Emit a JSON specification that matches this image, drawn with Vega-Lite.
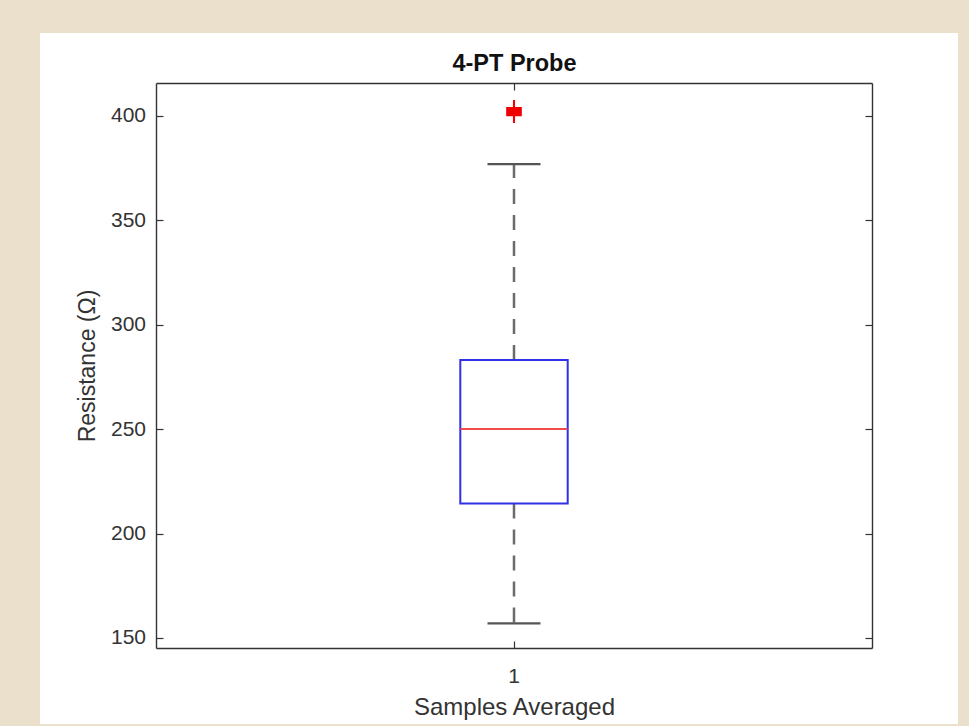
{
  "$schema": "https://vega.github.io/schema/vega-lite/v6.json",
  "width": 918,
  "height": 691,
  "autosize": {"type": "none"},
  "padding": {"left": 40, "top": 33, "right": 11, "bottom": 2},
  "background": "#EAE0CC",
  "config": {
    "view": {"fill": "white", "stroke": null},
    "font": "Liberation Sans",
    "axis": {"grid": false, "minExtent": 0, "maxExtent": 400}
  },
  "datasets": {
    "box": [
      {"group": "1", "lower": 157.0, "q1": 214.4, "median": 250.1, "q3": 283.1, "upper": 376.9}
    ],
    "outliers": [
      {"group": "1", "value": 402.1}
    ]
  },
  "layer": [
    {
      "data": {"name": "box"},
      "encoding": {
        "x": {
          "field": "group",
          "type": "nominal",
          "scale": {"range": [116, 832], "paddingInner": 0, "paddingOuter": 0},
          "axis": {
            "orient": "bottom",
            "offset": -76,
            "tickSize": -7,
            "tickColor": "#333333",
            "tickWidth": 1.2,
            "domainColor": "#333333",
            "domainWidth": 1.4,
            "labelAngle": 0,
            "labelFontSize": 21,
            "labelColor": "#333333",
            "labelBaseline": "alphabetic",
            "labelPadding": 41,
            "title": "Samples Averaged",
            "titleFontSize": 24,
            "titleFontWeight": "normal",
            "titleColor": "#333333",
            "titleBaseline": "alphabetic",
            "titlePadding": 28.5
          }
        }
      },
      "layer": [
        {
          "mark": {"type": "rule", "color": "#6b6b6b", "strokeWidth": 2.5, "strokeDash": [15, 11]},
          "encoding": {
            "y": {
              "field": "q3",
              "type": "quantitative",
              "scale": {"domain": [145.2, 415.8], "range": [615, 50], "nice": false, "zero": false},
              "axis": {
                "orient": "left",
                "offset": -116,
                "values": [150, 200, 250, 300, 350, 400],
                "tickSize": -7,
                "tickColor": "#333333",
                "tickWidth": 1.2,
                "domainColor": "#333333",
                "domainWidth": 1.4,
                "labelFontSize": 21,
                "labelColor": "#333333",
                "labelPadding": 17.5,
                "title": "Resistance (Ω)",
                "titleFontSize": 23,
                "titleFontWeight": "normal",
                "titleColor": "#333333",
                "titlePadding": 11
              }
            },
            "y2": {"field": "upper"}
          }
        },
        {
          "mark": {"type": "rule", "color": "#6b6b6b", "strokeWidth": 2.5, "strokeDash": [15, 11]},
          "encoding": {
            "y": {"field": "q1", "type": "quantitative", "axis": {"title": "Resistance (Ω)"}},
            "y2": {"field": "lower"}
          }
        },
        {
          "mark": {"type": "tick", "color": "#555555", "size": 53, "thickness": 2.2, "opacity": 1},
          "encoding": {
            "y": {"field": "upper", "type": "quantitative", "axis": {"title": "Resistance (Ω)"}}
          }
        },
        {
          "mark": {"type": "tick", "color": "#555555", "size": 53, "thickness": 2.2, "opacity": 1},
          "encoding": {
            "y": {"field": "lower", "type": "quantitative", "axis": {"title": "Resistance (Ω)"}}
          }
        },
        {
          "mark": {"type": "bar", "width": {"band": 0.15}, "fill": "white", "stroke": "#3030e6", "strokeWidth": 2, "opacity": 1},
          "encoding": {
            "y": {"field": "q1", "type": "quantitative", "axis": {"title": "Resistance (Ω)"}},
            "y2": {"field": "q3"}
          }
        },
        {
          "mark": {"type": "tick", "color": "#f04a4a", "size": 107, "thickness": 2, "opacity": 1},
          "encoding": {
            "y": {"field": "median", "type": "quantitative", "axis": {"title": "Resistance (Ω)"}}
          }
        }
      ]
    },
    {
      "data": {"name": "outliers"},
      "mark": {
        "type": "point",
        "shape": "M-0.68,-0.4H0.68V0.4H-0.68Z M-0.09,-1H0.09V1H-0.09Z",
        "size": 529,
        "filled": true,
        "color": "#f00000",
        "opacity": 1,
        "strokeWidth": 0
      },
      "encoding": {
        "x": {
          "field": "group",
          "type": "nominal",
          "axis": {
            "orient": "top",
            "offset": -50,
            "tickSize": -7,
            "tickColor": "#333333",
            "tickWidth": 1.2,
            "domainColor": "#333333",
            "domainWidth": 1.4,
            "labels": false,
            "title": "4-PT Probe",
            "titleFontSize": 23.5,
            "titleFontWeight": "bold",
            "titleColor": "#111111",
            "titleBaseline": "alphabetic",
            "titlePadding": 12
          }
        },
        "y": {
          "field": "value",
          "type": "quantitative",
          "axis": {
            "orient": "right",
            "offset": -86,
            "values": [150, 200, 250, 300, 350, 400],
            "tickSize": -7,
            "tickColor": "#333333",
            "tickWidth": 1.2,
            "domainColor": "#333333",
            "domainWidth": 1.4,
            "labels": false,
            "title": null
          }
        }
      }
    }
  ],
  "resolve": {"axis": {"x": "independent", "y": "independent"}}
}
